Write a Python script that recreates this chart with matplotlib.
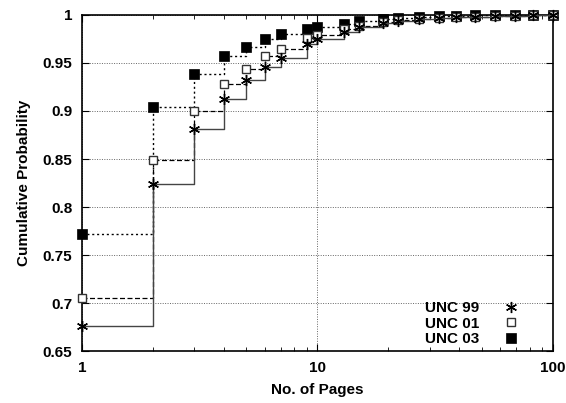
import matplotlib
matplotlib.use("Agg")
import matplotlib.pyplot as plt
from matplotlib.ticker import FixedLocator, NullFormatter, FixedFormatter

# Page-count bins (x) and cumulative probabilities per trace
pages = [1, 2, 3, 4, 5, 6, 7, 9, 10, 13, 15, 19, 22, 27, 33, 39, 47, 57, 69, 83, 100]

unc99 = [0.676, 0.824, 0.881, 0.913, 0.932, 0.946, 0.955, 0.970, 0.975, 0.982,
         0.987, 0.992, 0.994, 0.996, 0.997, 0.998, 0.998, 0.999, 0.999, 0.9995, 1.0]
unc01 = [0.705, 0.849, 0.900, 0.928, 0.944, 0.957, 0.965, 0.976, 0.979, 0.985,
         0.989, 0.993, 0.995, 0.996, 0.997, 0.998, 0.998, 0.999, 0.999, 0.9995, 1.0]
unc03 = [0.772, 0.904, 0.939, 0.957, 0.967, 0.975, 0.980, 0.985, 0.988, 0.991,
         0.994, 0.9955, 0.9966, 0.9976, 0.9988, 0.999, 0.9995, 0.9998, 1.0, 1.0, 1.0]

labels = ["UNC 99", "UNC 01", "UNC 03"]
y_ticks = [0.65, 0.7, 0.75, 0.8, 0.85, 0.9, 0.95, 1.0]
y_tick_labels = ["0.65", "0.7", "0.75", "0.8", "0.85", "0.9", "0.95", "1"]
x_ticks = [1, 10, 100]

plt.rcParams["font.family"] = ["Liberation Sans", "DejaVu Sans"]
plt.rcParams["font.weight"] = "bold"

fig = plt.figure(figsize=(5.66, 4.03), dpi=100)
ax = fig.add_axes([0.1449, 0.129, 0.8313, 0.8338])

styles = [
    dict(ls="-", color="#444444", lw=1.0, marker=(6, 2, 0), ms=8, mew=1.0,
         mfc="black", mec="black"),
    dict(ls=(0, (4, 2)), color="black", lw=0.9, marker="s", ms=6, mew=1.0,
         mfc="white", mec="#333333"),
    dict(ls=(0, (1.5, 2)), color="black", lw=1.0, marker="s", ms=6.5, mew=0.5,
         mfc="black", mec="black"),
]

series = [unc99, unc01, unc03]
# solid trace drawn on top of the dashed and dotted ones
for vals, st, lab, z in zip(series, styles, labels, [5, 4, 3]):
    ax.plot(pages, vals, drawstyle="steps-post", ls=st["ls"], color=st["color"],
            lw=st["lw"], zorder=z)
    ax.plot(pages, vals, ls="none", marker=st["marker"], ms=st["ms"],
            mew=st["mew"], mfc=st["mfc"], mec=st["mec"], zorder=z + 0.5,
            label=lab, clip_on=False)

ax.set_xscale("log")
ax.set_xlim(1, 100)
ax.set_ylim(0.65, 1.0)

ax.xaxis.set_major_locator(FixedLocator(x_ticks))
ax.xaxis.set_major_formatter(FixedFormatter(["1", "10", "100"]))
ax.xaxis.set_minor_locator(FixedLocator([2, 3, 4, 5, 6, 7, 8, 9,
                                         20, 30, 40, 50, 60, 70, 80, 90]))
ax.xaxis.set_minor_formatter(NullFormatter())
ax.set_yticks(y_ticks)
ax.set_yticklabels(y_tick_labels)

ax.tick_params(which="both", direction="in", top=True, right=True,
               labelsize=11, pad=7)
ax.tick_params(which="major", length=5, width=0.8)
ax.tick_params(which="minor", length=3, width=0.6)
for lab in ax.get_xticklabels() + ax.get_yticklabels():
    lab.set_fontweight("bold")

ax.grid(True, which="major", ls=(0, (1, 1.5)), color="#666666", lw=0.7)
for sp in ax.spines.values():
    sp.set_linewidth(1.2)

ax.set_xlabel("No. of Pages", fontsize=11, fontweight="bold", labelpad=6)
ax.set_ylabel("Cumulative Probability", fontsize=11, fontweight="bold", labelpad=8)

leg = ax.legend(loc="lower right", frameon=False, markerfirst=False,
                handlelength=1.2, handletextpad=1.5, labelspacing=0.1,
                fontsize=11, borderaxespad=0.3, bbox_to_anchor=(0.954, -0.017))
for t in leg.get_texts():
    t.set_fontweight("bold")
    t.set_ha("right")

fig.savefig("out.png", dpi=100)
